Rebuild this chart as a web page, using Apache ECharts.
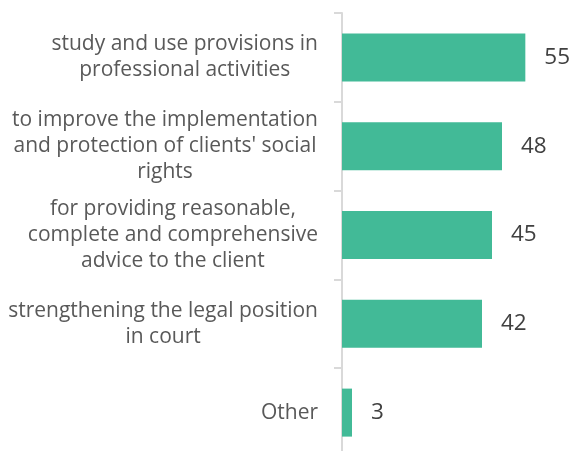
<!DOCTYPE html>
<html>
<head>
<meta charset="utf-8">
<script src="https://cdn.jsdelivr.net/npm/echarts@6/dist/echarts.min.js"></script>
<style>
  html, body { margin: 0; padding: 0; background: #fff; overflow: hidden; }
  #chart { width: 573px; height: 460px; }
</style>
</head>
<body>
<div id="chart"></div>
<script>
// Reasons given, top to bottom
const categories = [
  "study and use provisions in\nprofessional activities",
  "to improve the implementation\nand protection of clients' social\nrights",
  "for providing reasonable,\ncomplete and comprehensive\nadvice to the client",
  "strengthening the legal position\nin court",
  "Other"
];
const values = [55, 48, 45, 42, 3];

const chart = echarts.init(document.getElementById('chart'), null, { renderer: 'canvas' });

chart.setOption({
  animation: false,
  // the plot runs slightly past the bottom edge of the visible area
  grid: { left: 342, right: 31, top: 13, bottom: 3, containLabel: false },
  xAxis: {
    type: 'value', min: 0, max: 60,
    show: false
  },
  yAxis: {
    type: 'category',
    inverse: true,
    data: categories,
    axisLine: { show: true, lineStyle: { color: '#d9d9d9', width: 2 } },
    axisTick: { show: true, length: 8, alignWithLabel: false, lineStyle: { color: '#d9d9d9', width: 2 } },
    axisLabel: {
      margin: 24,
      formatter: v => v.split('\n').map(l => '{c|' + l + '}').join('\n'),
      rich: {
        c: { align: 'center', fontFamily: 'Open Sans', fontSize: 21, lineHeight: 26, color: '#595959' }
      }
    },
    splitLine: { show: false }
  },
  series: [{
    type: 'bar',
    data: values,
    barWidth: 48,
    itemStyle: { color: '#42BA97' },
    label: {
      show: true, position: 'right', distance: 19,
      fontFamily: 'Open Sans', fontSize: 22.5, color: '#404040'
    }
  }]
});
</script>
</body>
</html>
